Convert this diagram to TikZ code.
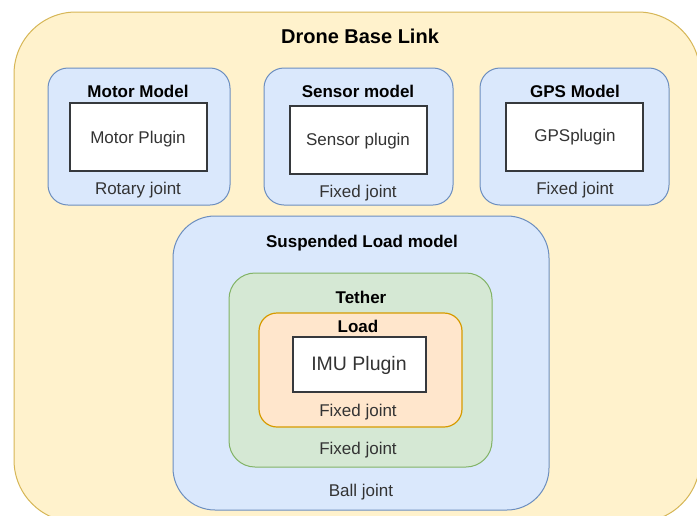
\documentclass[tikz,border=0pt]{standalone}
\usepackage{fontspec}
\setmainfont{Liberation Sans}
\definecolor{yfill}{HTML}{FFF2CC}
\definecolor{ydraw}{HTML}{D6B656}
\definecolor{bfill}{HTML}{DAE8FC}
\definecolor{bdraw}{HTML}{6C8EBF}
\definecolor{gfill}{HTML}{D5E8D4}
\definecolor{gdraw}{HTML}{82B366}
\definecolor{ofill}{HTML}{FFE6CC}
\definecolor{odraw}{HTML}{D79B00}
\definecolor{txt}{HTML}{333333}
\definecolor{pdraw}{HTML}{36393D}
\begin{document}
\begin{tikzpicture}[x=1pt,y=-1pt,
  container/.style={draw, line width=1pt, inner sep=0pt, outer sep=0pt},
  yellowbox/.style={container, fill=yfill, draw=ydraw, rounded corners=62pt},
  bluebox/.style={container, fill=bfill, draw=bdraw, rounded corners=20pt},
  bigblue/.style={container, fill=bfill, draw=bdraw, rounded corners=42pt},
  greenbox/.style={container, fill=gfill, draw=gdraw, rounded corners=26pt},
  orangebox/.style={container, fill=ofill, draw=odraw, line width=1.2pt, rounded corners=18pt},
  pluginbox/.style={container, fill=white, draw=pdraw, line width=1.2pt},
  lbl/.style={inner sep=0pt, text height=0.72em, text depth=0pt, font=\fontsize{17}{19}\selectfont, text=txt},
  ttl/.style={inner sep=0pt, text height=0.72em, text depth=0pt, font=\fontsize{17}{19}\selectfont\bfseries, text=black},
]
\useasboundingbox (0,0) rectangle (697,515);
\clip (0,0) rectangle (697,515);

% outer drone base link
\node[yellowbox, minimum width=686pt, minimum height=510pt] (base) at (357,267) {};
\node[ttl, font=\fontsize{20}{23}\selectfont\bfseries] (baseT) at (360,39.5) {Drone Base Link};

% motor model
\node[bluebox, minimum width=182pt, minimum height=137pt] (motor) at (139,136.5) {};
\node[ttl] (motorT) at (138,94) {Motor Model};
\node[pluginbox, minimum width=137pt, minimum height=68pt] (motorP) at (138.5,137) {};
\node[lbl] at (138,139.5) {Motor Plugin};
\node[lbl] (motorJ) at (138,190.5) {Rotary joint};

% sensor model
\node[bluebox, minimum width=189pt, minimum height=137pt] (sensor) at (358.5,136.5) {};
\node[ttl] (sensorT) at (358,94) {Sensor model};
\node[pluginbox, minimum width=137pt, minimum height=68pt] (sensorP) at (358.5,140) {};
\node[lbl] at (358,141.5) {Sensor plugin};
\node[lbl] (sensorJ) at (358,194) {Fixed joint};

% gps model
\node[bluebox, minimum width=189pt, minimum height=137pt] (gps) at (574.5,136.5) {};
\node[ttl] (gpsT) at (575,94) {GPS Model};
\node[pluginbox, minimum width=137pt, minimum height=68pt] (gpsP) at (574.5,137) {};
\node[lbl] at (575,137.5) {GPSplugin};
\node[lbl] (gpsJ) at (575,190.5) {Fixed joint};

% suspended load model
\node[bigblue, minimum width=376pt, minimum height=294pt] (susp) at (361,363) {};
\node[ttl] (suspT) at (362,243.5) {Suspended Load model};
\node[lbl] (suspJ) at (361,492.5) {Ball joint};

% tether
\node[greenbox, minimum width=263pt, minimum height=194pt] (tether) at (360.5,370) {};
\node[ttl] (tetherT) at (361,299.5) {Tether};
\node[lbl] (tetherJ) at (358,450.5) {Fixed joint};

% load
\node[orangebox, minimum width=203pt, minimum height=114pt] (load) at (360.5,370) {};
\node[ttl] (loadT) at (358,328.5) {Load};
\node[pluginbox, minimum width=133pt, minimum height=55pt] (imu) at (359.5,364.5) {};
\node[lbl, font=\fontsize{19.5}{22}\selectfont] at (359,367) {IMU Plugin};
\node[lbl] (loadJ) at (358,412.5) {Fixed joint};
\end{tikzpicture}
\end{document}
